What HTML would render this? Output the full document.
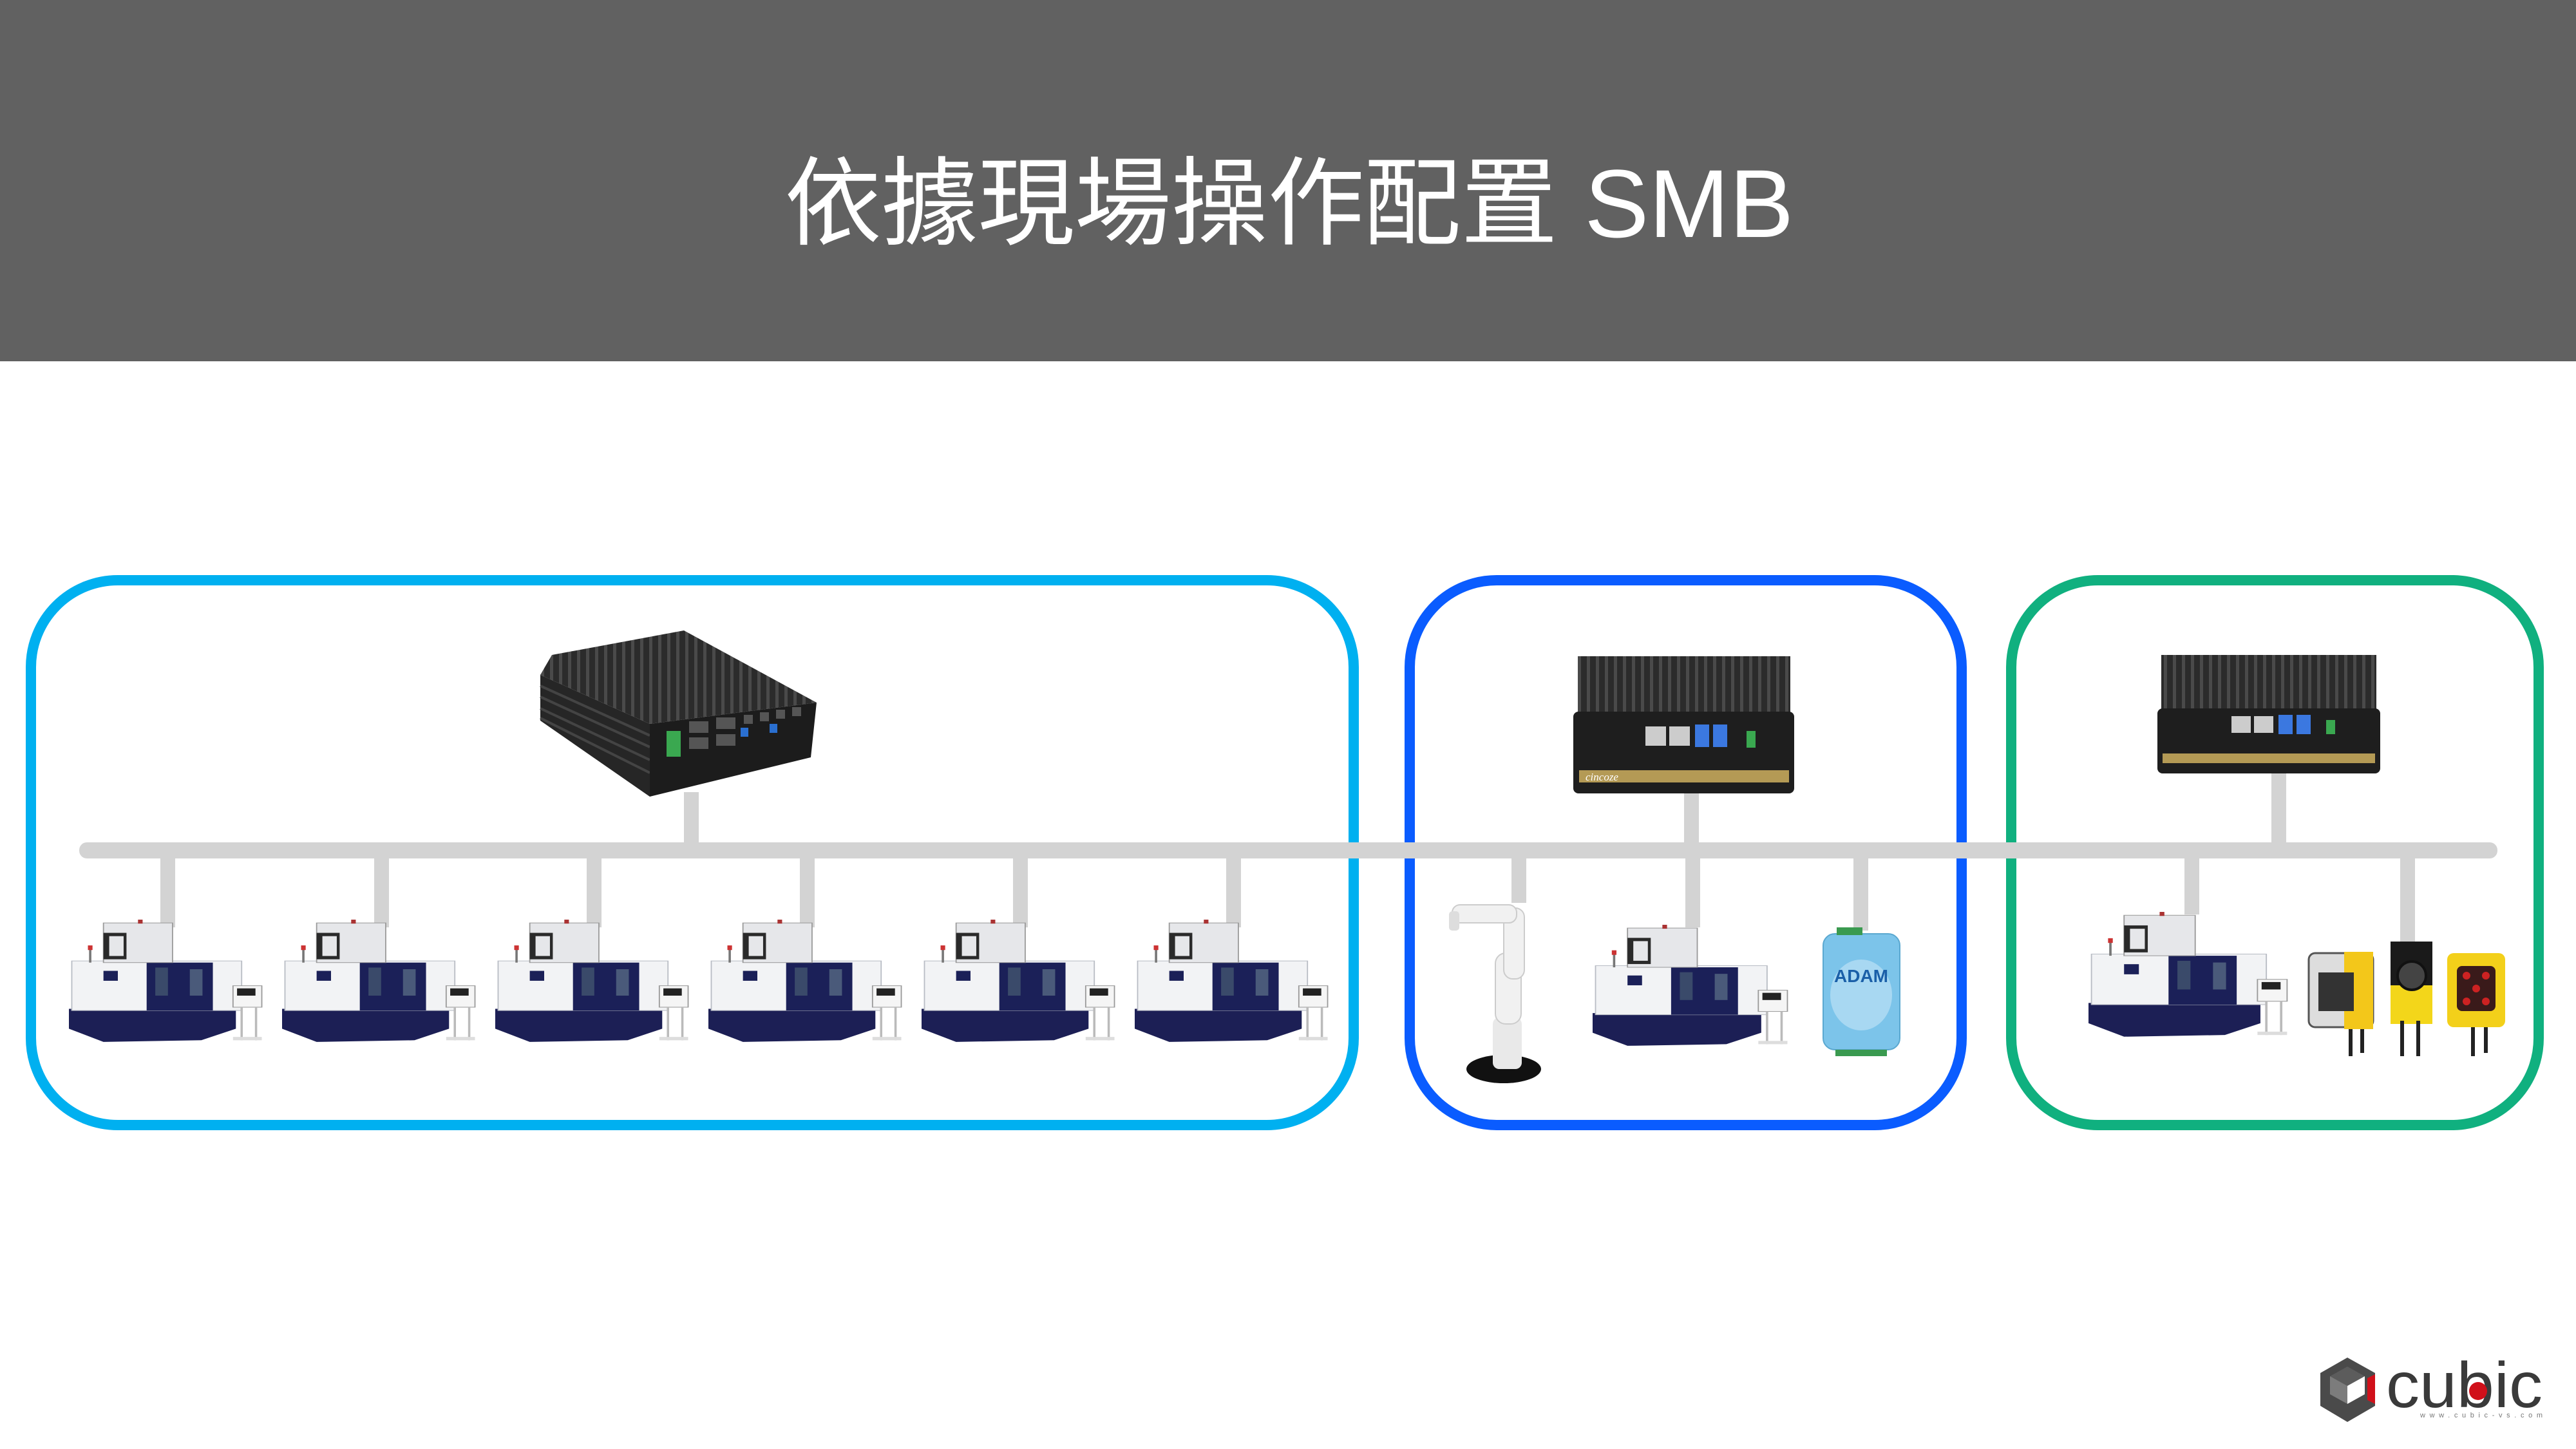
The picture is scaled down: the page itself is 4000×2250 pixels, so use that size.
<!DOCTYPE html>
<html><head><meta charset="utf-8"><style>
html,body{margin:0;padding:0;background:#fff;}
svg{display:block;}
</style></head><body>
<svg width="4000" height="2250" viewBox="0 0 4000 2250" xmlns="http://www.w3.org/2000/svg">
<defs>
<symbol id="mach" viewBox="0 0 340 380" preserveAspectRatio="none">
  <polygon points="0,270 290,265 290,330 230,365 60,370 0,330" fill="#1c1f55"/>
  <rect x="5" y="125" width="295" height="150" fill="#f2f3f5" stroke="#b8bcc4" stroke-width="2"/>
  <rect x="135" y="130" width="115" height="145" fill="#1b2058"/>
  <rect x="150" y="145" width="22" height="85" fill="#3a4a6a"/>
  <rect x="210" y="150" width="22" height="80" fill="#4a5a7a"/>
  <rect x="60" y="155" width="25" height="30" fill="#1b2058"/>
  <rect x="60" y="10" width="120" height="120" fill="#e6e7ea" stroke="#999" stroke-width="2"/>
  <rect x="60" y="40" width="40" height="80" fill="#2a2a2a"/>
  <rect x="70" y="50" width="25" height="60" fill="#e6e7ea"/>
  <rect x="120" y="0" width="8" height="12" fill="#a33"/>
  <rect x="35" y="80" width="4" height="50" fill="#777"/>
  <rect x="33" y="78" width="8" height="14" fill="#c33"/>
  <rect x="285" y="200" width="50" height="65" fill="#f5f5f5" stroke="#999" stroke-width="2"/>
  <rect x="292" y="208" width="32" height="22" fill="#222"/>
  <line x1="300" y1="265" x2="300" y2="365" stroke="#bbb" stroke-width="4"/>
  <line x1="325" y1="265" x2="325" y2="365" stroke="#bbb" stroke-width="4"/>
  <rect x="285" y="355" width="50" height="10" fill="#ddd"/>
</symbol>
<pattern id="fins" width="14" height="10" patternUnits="userSpaceOnUse">
  <rect width="14" height="10" fill="#2b2b2b"/><rect width="5" height="10" fill="#4a4a4a"/>
</pattern>
</defs>

<rect x="0" y="0" width="4000" height="561" fill="#616161"/>
<text x="2002" y="368" text-anchor="middle" font-family="'Liberation Sans','Noto Sans CJK TC',sans-serif" font-size="150" fill="#ffffff">依據現場操作配置 SMB</text>

<rect x="48" y="901" width="2054" height="846" rx="135" fill="none" stroke="#00b0f0" stroke-width="16"/>
<rect x="2189" y="901" width="857" height="846" rx="135" fill="none" stroke="#0a5cff" stroke-width="16"/>
<rect x="3123" y="901" width="819" height="846" rx="135" fill="none" stroke="#10b07f" stroke-width="16"/>

<g fill="#d3d3d3">
  <rect x="123" y="1308" width="3755" height="25" rx="12"/>
  <rect x="1062" y="1230" width="23" height="80"/>
  <rect x="2615" y="1225" width="23" height="85"/>
  <rect x="3527" y="1195" width="23" height="115"/>
  <rect x="249" y="1330" width="23" height="110"/>
  <rect x="581" y="1330" width="23" height="110"/>
  <rect x="911" y="1330" width="23" height="110"/>
  <rect x="1242" y="1330" width="23" height="110"/>
  <rect x="1573" y="1330" width="23" height="110"/>
  <rect x="1904" y="1330" width="23" height="110"/>
  <rect x="2347" y="1330" width="23" height="72"/>
  <rect x="2617" y="1330" width="23" height="110"/>
  <rect x="2878" y="1330" width="23" height="115"/>
  <rect x="3392" y="1330" width="23" height="90"/>
  <rect x="3727" y="1330" width="23" height="135"/>
</g>

<use href="#mach" x="107" y="1428" width="304" height="195"/>
<use href="#mach" x="438" y="1428" width="304" height="195"/>
<use href="#mach" x="769" y="1428" width="304" height="195"/>
<use href="#mach" x="1100" y="1428" width="304" height="195"/>
<use href="#mach" x="1431" y="1428" width="304" height="195"/>
<use href="#mach" x="1762" y="1428" width="304" height="195"/>
<use href="#mach" x="2473" y="1436" width="307" height="193"/>
<use href="#mach" x="3243" y="1416" width="313" height="199"/>

<!-- PC1 -->
<polygon points="857,1017 1062,979 1268,1091 1009,1124 839,1048" fill="url(#fins)"/>
<polygon points="839,1048 1009,1124 1009,1237 839,1119" fill="#262626"/>
<g stroke="#444" stroke-width="4"><line x1="839" y1="1065" x2="1009" y2="1142"/><line x1="839" y1="1082" x2="1009" y2="1160"/><line x1="839" y1="1100" x2="1009" y2="1180"/><line x1="839" y1="1115" x2="1009" y2="1200"/></g>
<polygon points="1009,1124 1268,1091 1259,1176 1009,1237" fill="#1c1c1c"/>
<rect x="1035" y="1135" width="22" height="40" fill="#3aa850"/>
<g fill="#555"><rect x="1070" y="1120" width="30" height="18"/><rect x="1112" y="1114" width="30" height="18"/><rect x="1070" y="1145" width="30" height="18"/><rect x="1112" y="1140" width="30" height="18"/><rect x="1155" y="1110" width="14" height="14"/><rect x="1180" y="1106" width="14" height="14"/><rect x="1205" y="1102" width="14" height="14"/><rect x="1230" y="1098" width="14" height="14"/></g>
<rect x="1150" y="1130" width="12" height="14" fill="#2a6fd0"/><rect x="1195" y="1124" width="12" height="14" fill="#2a6fd0"/>

<!-- PC2 -->
<rect x="2450" y="1019" width="330" height="95" fill="url(#fins)"/>
<rect x="2443" y="1105" width="343" height="127" rx="8" fill="#1e1e1e"/>
<rect x="2555" y="1128" width="32" height="30" fill="#ccc"/><rect x="2592" y="1128" width="32" height="30" fill="#ccc"/>
<rect x="2632" y="1125" width="22" height="35" fill="#3b78e0"/><rect x="2660" y="1125" width="22" height="35" fill="#3b78e0"/>
<rect x="2712" y="1135" width="14" height="26" fill="#3aa850"/>
<rect x="2452" y="1196" width="326" height="19" fill="#b49a55"/>
<text x="2462" y="1212" font-family="'Liberation Serif',serif" font-style="italic" font-size="17" fill="#fff">cincoze</text>
<!-- PC3 -->
<rect x="3356" y="1017" width="334" height="90" fill="url(#fins)"/>
<rect x="3350" y="1100" width="346" height="101" rx="8" fill="#1e1e1e"/>
<rect x="3465" y="1112" width="30" height="26" fill="#ccc"/><rect x="3500" y="1112" width="30" height="26" fill="#ccc"/>
<rect x="3538" y="1110" width="22" height="30" fill="#3b78e0"/><rect x="3566" y="1110" width="22" height="30" fill="#3b78e0"/>
<rect x="3612" y="1118" width="14" height="22" fill="#3aa850"/>
<rect x="3358" y="1170" width="330" height="15" fill="#b49a55"/>

<!-- Robot -->
<ellipse cx="2335" cy="1660" rx="58" ry="22" fill="#111"/>
<rect x="2318" y="1580" width="45" height="80" rx="10" fill="#e9e9e9"/>
<rect x="2322" y="1480" width="40" height="110" rx="16" fill="#f1f1f1" stroke="#ccc" stroke-width="2"/>
<rect x="2335" y="1410" width="32" height="110" rx="14" fill="#f1f1f1" stroke="#ccc" stroke-width="2"/>
<rect x="2255" y="1405" width="100" height="28" rx="12" fill="#f1f1f1" stroke="#ccc" stroke-width="2"/>
<rect x="2250" y="1415" width="16" height="30" rx="5" fill="#ddd"/>

<!-- ADAM -->
<rect x="2831" y="1450" width="119" height="180" rx="18" fill="#7cc4ea" stroke="#5aa8d0" stroke-width="2"/>
<ellipse cx="2890" cy="1545" rx="48" ry="55" fill="#a8d8f2"/>
<text x="2890" y="1525" text-anchor="middle" font-family="'Liberation Sans',sans-serif" font-weight="bold" font-size="28" fill="#1a5fa8">ADAM</text>
<rect x="2852" y="1440" width="40" height="12" fill="#3a9a50"/>
<rect x="2850" y="1630" width="80" height="10" fill="#3a9a50"/>

<!-- Cameras -->
<rect x="3585" y="1480" width="100" height="115" rx="10" fill="#ddd" stroke="#555" stroke-width="3"/>
<rect x="3640" y="1478" width="45" height="120" fill="#f3c71a"/>
<rect x="3600" y="1510" width="55" height="60" fill="#333"/>
<rect x="3712" y="1462" width="65" height="120" fill="#1a1a1a"/>
<rect x="3712" y="1530" width="65" height="60" fill="#f3d61a"/>
<circle cx="3745" cy="1515" r="22" fill="#444" stroke="#111" stroke-width="4"/>
<rect x="3800" y="1480" width="90" height="115" rx="10" fill="#f3d01a"/>
<rect x="3815" y="1500" width="60" height="70" rx="8" fill="#3a1a1a"/>
<g fill="#c22"><circle cx="3830" cy="1515" r="6"/><circle cx="3860" cy="1515" r="6"/><circle cx="3830" cy="1555" r="6"/><circle cx="3860" cy="1555" r="6"/><circle cx="3845" cy="1535" r="6"/></g>
<g stroke="#222" stroke-width="6"><line x1="3650" y1="1598" x2="3650" y2="1640"/><line x1="3668" y1="1598" x2="3668" y2="1635"/><line x1="3730" y1="1585" x2="3730" y2="1640"/><line x1="3755" y1="1585" x2="3755" y2="1640"/><line x1="3840" y1="1595" x2="3840" y2="1640"/><line x1="3860" y1="1595" x2="3860" y2="1635"/></g>

<!-- Logo -->
<polygon points="3645,2108 3688,2132 3688,2183 3645,2208 3603,2183 3603,2132" fill="#4a4a4a"/>
<polygon points="3645,2122 3672,2137 3645,2152 3618,2137" fill="#5c5c5c"/>
<polygon points="3618,2137 3645,2152 3645,2180 3618,2165" fill="#7c7c7c"/>
<polygon points="3645,2152 3672,2137 3672,2165 3645,2180" fill="#fff"/>
<polygon points="3676,2140 3688,2134 3688,2180 3676,2174" fill="#d0101a"/>
<text x="3705" y="2185" font-family="'Liberation Sans',sans-serif" font-size="100" fill="#3a3a3a" textLength="243" lengthAdjust="spacingAndGlyphs">cubic</text>
<circle cx="3848" cy="2160" r="14" fill="#d0101a"/>
<text x="3758" y="2201" font-family="'Liberation Sans',sans-serif" font-size="11" fill="#777" textLength="190" lengthAdjust="spacing">www.cubic-vs.com</text>
</svg>
</body></html>
